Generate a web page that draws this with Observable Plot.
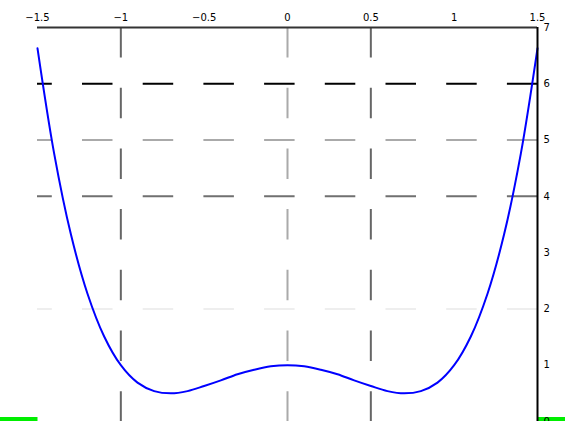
<!DOCTYPE html>
<html>
<head>
<meta charset="utf-8">
<script src="https://cdn.jsdelivr.net/npm/d3@7"></script>
<script src="https://cdn.jsdelivr.net/npm/@observablehq/plot@0.6"></script>
<style>
  html, body { margin: 0; padding: 0; background: #fff; overflow: hidden; }
  #wrap { position: relative; width: 565px; height: 421px; }
  #strip { position: absolute; left: 0; top: 417px; width: 565px; height: 4px; background: #00ee00; z-index: 0; }
  #chart { position: absolute; left: 0; top: 0; z-index: 1; }
  #chart svg { background: transparent !important; }
</style>
</head>
<body>
<div id="wrap"><div id="strip"></div><div id="chart"></div></div>
<script>
// Curve values
const xs = [-1.5,-1.4,-1.3,-1.2,-1.1,-1.0,-0.9,-0.8,-0.7,-0.6,-0.5,-0.4,-0.3,-0.2,-0.1,0,
            0.1,0.2,0.3,0.4,0.5,0.6,0.7,0.8,0.9,1.0,1.1,1.2,1.3,1.4,1.5];
const ys = [6.63,4.76,3.33,2.27,1.51,1.0,0.69,0.54,0.50,0.54,0.63,0.73,0.84,0.92,0.98,1.0,
            0.98,0.92,0.84,0.73,0.63,0.54,0.50,0.54,0.69,1.0,1.51,2.27,3.33,4.76,6.63];
const xTicks = [-1.5,-1,-0.5,0,0.5,1,1.5];
const yTicks = [0,1,2,3,4,5,6,7];
// gridlines present in the reference, with their grey levels
const hGridValues = [6,5,4,2];
const hGridColors = ["#000000","#aaaaaa","#707070","#eeeeee"];
const vGridValues = [-1,0,0.5];
const vGridColors = ["#666666","#aaaaaa","#666666"];

const curve = xs.map((x,i)=>({x, y: ys[i]}));
const hGrid = hGridValues.map((v,i)=>({v, c: hGridColors[i]}));
const vGrid = vGridValues.map((v,i)=>({v, c: vGridColors[i]}));

const chart = Plot.plot({
  width: 565,
  height: 421,
  marginLeft: 37,
  marginRight: 28,
  marginTop: 27,
  marginBottom: 0,
  style: {fontFamily: "DejaVu Sans", fontSize: "10px", background: "transparent", color: "#000"},
  x: {domain: [-1.5, 1.5]},
  y: {domain: [0, 7]},
  marks: [
    Plot.frame({fill: "white", stroke: "none"}),
    Plot.ruleY(hGrid, {y: "v", stroke: "c", strokeWidth: 2, strokeDasharray: "30.5,30.2", strokeDashoffset: 15.7}),
    Plot.ruleX(vGrid, {x: "v", stroke: "c", strokeWidth: 2, strokeDasharray: "30.5,30.2"}),
    Plot.line(curve, {x: "x", y: "y", stroke: "#0000ff", strokeWidth: 2, curve: "catmull-rom"}),
    Plot.axisX({anchor: "top", ticks: xTicks, tickSize: 0, tickPadding: 7, label: null, tickFormat: d => String(d).replace("-", "−")}),
    Plot.axisY({anchor: "right", ticks: yTicks, tickSize: 0, tickPadding: 6, label: null, tickFormat: d => String(d)}),
    Plot.ruleY([7], {stroke: "#333", strokeWidth: 2}),
    Plot.ruleX([1.5], {stroke: "#000", strokeWidth: 2})
  ]
});
document.getElementById("chart").appendChild(chart);
</script>
</body>
</html>
